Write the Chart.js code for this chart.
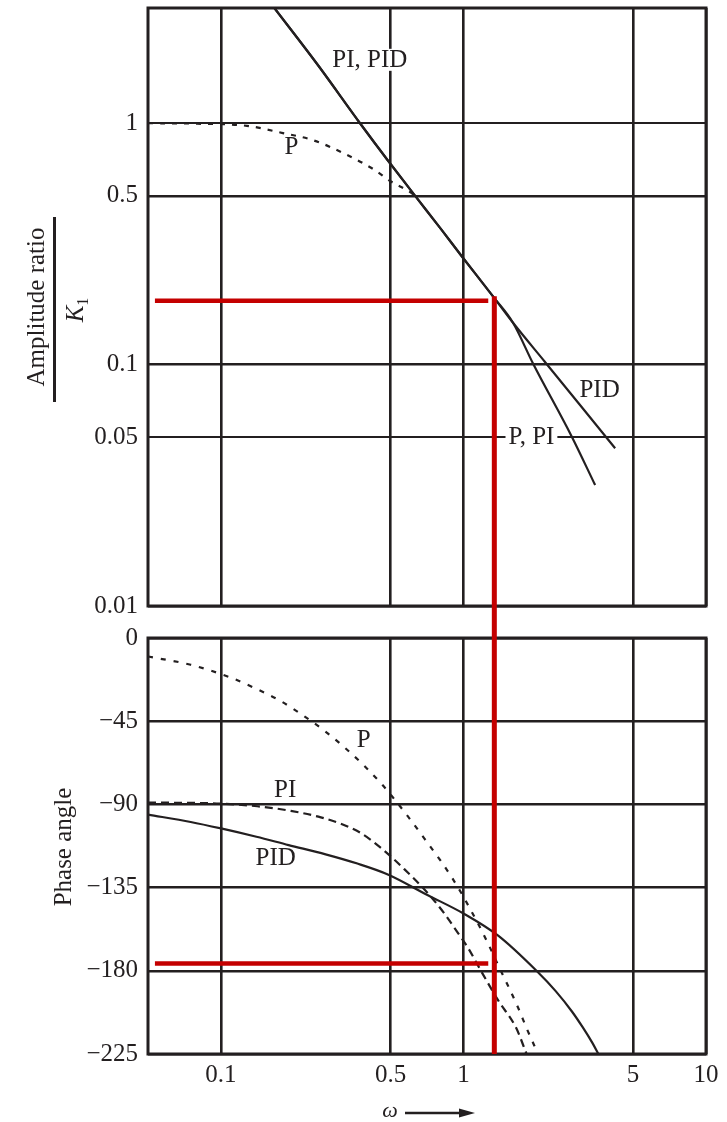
<!DOCTYPE html>
<html>
<head>
<meta charset="utf-8">
<title>Bode diagram – P, PI and PID control</title>
<script src="https://cdn.jsdelivr.net/npm/chart.js@4.4.1/dist/chart.umd.min.js"></script>
<style>
  html, body { margin: 0; padding: 0; background: #fff; }
  #wrap { position: relative; width: 727px; height: 1122px; overflow: hidden; }
  canvas { position: absolute; left: 0; }
  #ampCanvas { top: 0; }
  #phaseCanvas { top: 622px; }
</style>
</head>
<body>
<div id="wrap">
  <canvas id="ampCanvas" width="727" height="622"></canvas>
  <canvas id="phaseCanvas" width="727" height="500"></canvas>
</div>
<script>
// ---- frequency axis (shared) ----
const omegaTicks = [0.1, 0.5, 1, 5, 10];
const omegaTickLabels = ['0.1', '0.5', '1', '5', '10'];

// ---- amplitude ratio / K1 ----
const ampTicks = [0.01, 0.05, 0.1, 0.5, 1];
const ampTickLabels = ['0.01', '0.05', '0.1', '0.5', '1'];

const ampOmegaP = [0.05, 0.08, 0.128, 0.18, 0.24, 0.33, 0.43, 0.5, 0.6, 0.64];
const ampP      = [1.0, 0.995, 0.975, 0.91, 0.85, 0.74, 0.64, 0.575, 0.52, 0.495];

const ampOmegaPI = [0.166, 0.25, 0.377, 0.486, 0.625, 0.808, 0.978, 1.343, 1.6, 1.935, 2.79, 3.49];
const ampPI      = [3.0, 1.75, 0.99, 0.704, 0.507, 0.364, 0.283, 0.188, 0.149, 0.101, 0.0505, 0.0317];

const ampOmegaPID = [0.166, 0.25, 0.377, 0.486, 0.625, 0.808, 0.978, 1.343, 1.6, 2.16, 3.0, 4.22];
const ampPID      = [3.0, 1.75, 0.99, 0.704, 0.507, 0.364, 0.283, 0.188, 0.149, 0.103, 0.0687, 0.045];

// ---- phase angle (degrees) ----
const phaseTicks = [0, -45, -90, -135, -180, -225];
const phaseTickLabels = ['0', '\u221245', '\u221290', '\u2212135', '\u2212180', '\u2212225'];

const phaseOmegaP = [0.05, 0.075, 0.11, 0.14, 0.173, 0.216, 0.266, 0.322, 0.389, 0.456, 0.51, 0.59,
                     0.69, 0.81, 0.9, 0.99, 1.08, 1.18, 1.26, 1.39, 1.5, 1.68, 1.82, 2.03];
const phaseP      = [-10, -14.5, -21.5, -27.5, -33.5, -41.5, -50, -59, -69, -78.5, -86, -96.5,
                     -108.5, -121, -130, -139, -148, -157.5, -165, -177, -186, -200, -211, -225];

const phaseOmegaPI = [0.05, 0.096, 0.141, 0.194, 0.258, 0.312, 0.377, 0.461, 0.57, 0.712, 0.834,
                      0.948, 1.043, 1.18, 1.39, 1.65, 1.82];
const phasePI      = [-89, -89.5, -91, -93.5, -97, -100.5, -105.5, -114, -125, -138, -149,
                      -159.5, -167.5, -180, -196, -211, -225];

const phaseOmegaPID = [0.05, 0.075, 0.1, 0.14, 0.19, 0.27, 0.365, 0.49, 0.71, 1.0, 1.39,
                       2.0, 2.4, 2.8, 3.1, 3.4, 3.6];
const phasePID      = [-95.5, -99.5, -103, -107.5, -112, -117, -122, -128, -139, -149, -161,
                       -180, -191, -202, -210.5, -219, -225];

// ---- crossover guide (red) ----
const crossoverOmega = 1.34;
const crossoverRatio = 0.184;
const crossoverPhase = -176;
const guideOmegaStart = 0.0534;
const guideOmegaEnd = 1.265;
const guideRatioTop = 0.192;

// ---- curve captions ----
const ampLabelText  = ['PI, PID', 'P', 'PID', 'P, PI'];
const ampLabelOmega = [0.411, 0.195, 3.64, 1.906];
const ampLabelValue = [1.83, 0.804, 0.0792, 0.0506];

const phaseLabelText  = ['P', 'PI', 'PID'];
const phaseLabelOmega = [0.388, 0.184, 0.168];
const phaseLabelValue = [-54.6, -81.7, -118.5];

// ---- styling ----
const INK = '#231f20';
const RED = '#c40000';
const SERIF = "'Liberation Serif', 'Times New Roman', serif";
const AXIS_WIDTH = 148;

const xy = (xs, ys) => xs.map((x, i) => ({ x, y: ys[i] }));

function curve(data, dash) {
  return {
    data, borderColor: INK, borderWidth: 2.2, borderDash: dash, borderCapStyle: 'butt',
    pointRadius: 0, fill: false, cubicInterpolationMode: 'monotone', order: 2
  };
}
function guide(data, width) {
  return {
    data, borderColor: RED, borderWidth: width, borderCapStyle: 'butt',
    pointRadius: 0, fill: false, tension: 0, order: 0, clip: false
  };
}

// fixed axis sizes so both panels share the same plotting columns
function fitHorizontal(height) {
  return s => { s.height = height; s.paddingLeft = 0; s.paddingRight = 0; };
}
function fitVertical(s) {
  s.width = AXIS_WIDTH; s.paddingTop = 0; s.paddingBottom = 0;
}

function omegaAxis(showLabels, height) {
  return {
    type: 'logarithmic', position: 'bottom', min: 0.05, max: 10, bounds: 'data',
    afterBuildTicks: s => { s.ticks = omegaTicks.map(v => ({ value: v })); },
    afterFit: fitHorizontal(height),
    grid: { color: INK, lineWidth: 2.6, drawTicks: false },
    border: { display: false },
    ticks: {
      display: showLabels, padding: 6, autoSkip: false, maxRotation: 0,
      color: INK, font: { family: SERIF, size: 25 },
      callback: (v, i) => omegaTickLabels[i]
    }
  };
}

// frame around the plotting area + captions with a white backing
function panelPlugin(captions) {
  return {
    id: 'panel',
    beforeDatasetsDraw(chart) {
      const { ctx, chartArea: a, scales } = chart;
      ctx.save();
      ctx.strokeStyle = INK;
      ctx.lineWidth = 3;
      ctx.strokeRect(a.left, a.top, a.right - a.left, a.bottom - a.top);
      ctx.font = `25px ${SERIF}`;
      ctx.textAlign = 'center';
      ctx.textBaseline = 'middle';
      captions.text.forEach((t, i) => {
        const px = scales.x.getPixelForValue(captions.omega[i]);
        const py = scales.y.getPixelForValue(captions.value[i]);
        const w = ctx.measureText(t).width;
        ctx.fillStyle = '#fff';
        ctx.fillRect(px - w / 2 - 3, py - 11, w + 6, 22);
        ctx.fillStyle = INK;
        ctx.fillText(t, px, py + 1);
      });
      ctx.restore();
    }
  };
}

function rotatedText(ctx, text, cx, cy, font) {
  ctx.save();
  ctx.translate(cx, cy);
  ctx.rotate(-Math.PI / 2);
  ctx.font = font;
  ctx.textAlign = 'center';
  ctx.textBaseline = 'middle';
  ctx.fillText(text, 0, 0);
  ctx.restore();
}

// vertical guide continues across the space between the two panels
function linkPlugin(toBottom) {
  return {
    id: 'guideLink',
    afterDatasetsDraw(chart) {
      const { ctx, chartArea: a, scales } = chart;
      const px = scales.x.getPixelForValue(crossoverOmega);
      ctx.save();
      ctx.strokeStyle = RED;
      ctx.lineWidth = 5;
      ctx.beginPath();
      if (toBottom) { ctx.moveTo(px, a.bottom); ctx.lineTo(px, chart.height); }
      else { ctx.moveTo(px, 0); ctx.lineTo(px, a.top); }
      ctx.stroke();
      ctx.restore();
    }
  };
}

const ampTitlePlugin = {
  id: 'ampTitle',
  afterDraw(chart) {
    const ctx = chart.ctx;
    ctx.save();
    ctx.fillStyle = INK;
    rotatedText(ctx, 'Amplitude ratio', 37, 307, `25px ${SERIF}`);
    ctx.strokeStyle = INK;
    ctx.lineWidth = 3;
    ctx.beginPath();
    ctx.moveTo(54.5, 217);
    ctx.lineTo(54.5, 402);
    ctx.stroke();
    // K with subscript 1
    ctx.translate(75, 310);
    ctx.rotate(-Math.PI / 2);
    ctx.textBaseline = 'alphabetic';
    ctx.textAlign = 'left';
    ctx.font = `italic 25px ${SERIF}`;
    const wK = ctx.measureText('K').width;
    ctx.font = `16px ${SERIF}`;
    const w1 = ctx.measureText('1').width;
    const x0 = -(wK + w1) / 2;
    ctx.font = `italic 25px ${SERIF}`;
    ctx.fillText('K', x0, 8);
    ctx.font = `16px ${SERIF}`;
    ctx.fillText('1', x0 + wK, 13);
    ctx.restore();
  }
};

const phaseTitlePlugin = {
  id: 'phaseTitle',
  afterDraw(chart) {
    const { ctx, chartArea: a } = chart;
    ctx.save();
    ctx.fillStyle = INK;
    rotatedText(ctx, 'Phase angle', 64, 225, `25px ${SERIF}`);
    // omega with arrow under the frequency axis
    const cx = (a.left + a.right) / 2;
    const y = 491;
    ctx.font = `italic 22px ${SERIF}`;
    ctx.textAlign = 'center';
    ctx.textBaseline = 'middle';
    ctx.fillText('\u03c9', cx - 37, y - 2);
    ctx.strokeStyle = INK;
    ctx.lineWidth = 2.5;
    ctx.beginPath();
    ctx.moveTo(cx - 22, y);
    ctx.lineTo(cx + 36, y);
    ctx.stroke();
    ctx.beginPath();
    ctx.moveTo(cx + 48, y);
    ctx.lineTo(cx + 32, y - 4.5);
    ctx.lineTo(cx + 32, y + 4.5);
    ctx.closePath();
    ctx.fill();
    ctx.restore();
  }
};

const common = {
  responsive: false,
  animation: false,
  devicePixelRatio: 1,
  plugins: { legend: { display: false }, tooltip: { enabled: false } },
  events: []
};

// ---- amplitude ratio panel ----
new Chart(document.getElementById('ampCanvas'), {
  type: 'line',
  data: {
    datasets: [
      curve(xy(ampOmegaP, ampP), [5, 7]),
      curve(xy(ampOmegaPI, ampPI), []),
      curve(xy(ampOmegaPID, ampPID), []),
      guide([{ x: guideOmegaStart, y: crossoverRatio }, { x: guideOmegaEnd, y: crossoverRatio }], 4.5),
      guide([{ x: crossoverOmega, y: guideRatioTop }, { x: crossoverOmega, y: ampTicks[0] }], 5)
    ]
  },
  options: {
    ...common,
    layout: { padding: { left: 0, top: 8, right: 21, bottom: 0 } },
    scales: {
      x: omegaAxis(false, 16),
      y: {
        type: 'logarithmic', position: 'left', min: 0.01, max: 3, bounds: 'data',
        afterBuildTicks: s => { s.ticks = ampTicks.map(v => ({ value: v })); },
        afterFit: fitVertical,
        grid: {
          color: INK, drawTicks: false,
          lineWidth: c => (c.tick && (c.tick.value === 1 || c.tick.value === 0.05)) ? 2 : 2.6
        },
        border: { display: false },
        ticks: {
          padding: 10, autoSkip: false, color: INK, font: { family: SERIF, size: 25 },
          callback: (v, i) => ampTickLabels[i]
        }
      }
    }
  },
  plugins: [
    panelPlugin({ text: ampLabelText, omega: ampLabelOmega, value: ampLabelValue }),
    linkPlugin(true),
    ampTitlePlugin
  ]
});

// ---- phase angle panel ----
new Chart(document.getElementById('phaseCanvas'), {
  type: 'line',
  data: {
    datasets: [
      curve(xy(phaseOmegaP, phaseP), [5, 8]),
      curve(xy(phaseOmegaPI, phasePI), [8, 5]),
      curve(xy(phaseOmegaPID, phasePID), []),
      guide([{ x: guideOmegaStart, y: crossoverPhase }, { x: guideOmegaEnd, y: crossoverPhase }], 4.5),
      guide([{ x: crossoverOmega, y: phaseTicks[0] }, { x: crossoverOmega, y: phaseTicks[phaseTicks.length - 1] }], 5)
    ]
  },
  options: {
    ...common,
    layout: { padding: { left: 0, top: 16, right: 21, bottom: 0 } },
    scales: {
      x: omegaAxis(true, 68),
      y: {
        type: 'linear', position: 'left', min: -225, max: 0,
        afterBuildTicks: s => { s.ticks = phaseTicks.map(v => ({ value: v })); },
        afterFit: fitVertical,
        grid: { color: INK, lineWidth: 2.6, drawTicks: false },
        border: { display: false },
        ticks: {
          padding: 10, autoSkip: false, color: INK, font: { family: SERIF, size: 25 },
          callback: (v, i) => phaseTickLabels[phaseTicks.indexOf(v)] ?? phaseTickLabels[i]
        }
      }
    }
  },
  plugins: [
    panelPlugin({ text: phaseLabelText, omega: phaseLabelOmega, value: phaseLabelValue }),
    linkPlugin(false),
    phaseTitlePlugin
  ]
});
</script>
</body>
</html>
